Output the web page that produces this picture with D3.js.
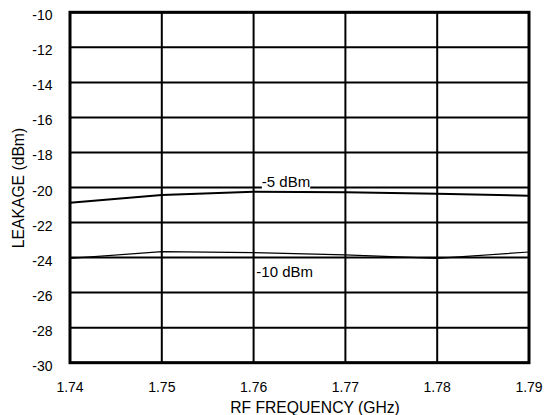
<!DOCTYPE html>
<html><head><meta charset="utf-8">
<script src="https://cdn.jsdelivr.net/npm/d3@7"></script>
<style>body{margin:0;background:#fff}svg{display:block}text{font-family:"Liberation Sans",Arial,sans-serif;fill:#000}</style>
</head><body>
<svg id="c" width="545" height="415"></svg>
<script>
const freq = [1.74, 1.75, 1.76, 1.77, 1.78, 1.79];
const leak5 = [-20.87, -20.43, -20.24, -20.27, -20.35, -20.47];
const leak10 = [-24.05, -23.66, -23.72, -23.85, -24.05, -23.68];
const xTicks = [1.74, 1.75, 1.76, 1.77, 1.78, 1.79];
const yTicks = [-30, -28, -26, -24, -22, -20, -18, -16, -14, -12, -10];
const seriesLabels = [{text: "-5 dBm", f: 1.7609, v: -19.96}, {text: "-10 dBm", f: 1.7603, v: -25.09}];

const svg = d3.select("#c");
const L = 70, R = 529, T = 12.3, B = 362.7;
const x = d3.scaleLinear().domain([1.74, 1.79]).range([L, R]);
const y = d3.scaleLinear().domain([-30, -10]).range([B, T]);

const g = svg.append("g");
g.selectAll("line.h").data(yTicks).join("line")
  .attr("x1", L).attr("x2", R).attr("y1", d => y(d)).attr("y2", d => y(d))
  .attr("stroke", "#000").attr("stroke-width", 2);
g.selectAll("line.v").data(xTicks).join("line")
  .attr("y1", T).attr("y2", B).attr("x1", d => x(d)).attr("x2", d => x(d))
  .attr("stroke", "#000").attr("stroke-width", 2);
g.append("rect").attr("x", L).attr("y", T).attr("width", R - L).attr("height", B - T)
  .attr("fill", "none").attr("stroke", "#000").attr("stroke-width", 3);

const line = d3.line().x((d, i) => x(freq[i])).y(d => y(d));
g.append("path").attr("d", line(leak5)).attr("fill", "none").attr("stroke", "#000").attr("stroke-width", 2);
g.append("path").attr("d", line(leak10)).attr("fill", "none").attr("stroke", "#000").attr("stroke-width", 1.2);

const lab = g.selectAll("g.sl").data(seriesLabels).join("g");
lab.append("text")
  .attr("x", d => x(d.f)).attr("y", d => y(d.v)).attr("font-size", 15).text(d => d.text);
lab.each(function() {
  const t = d3.select(this).select("text");
  const b = t.node().getBBox();
  d3.select(this).insert("rect", "text").attr("x", b.x).attr("y", b.y).attr("width", b.width).attr("height", b.height).attr("fill", "#fff");
});

g.selectAll("text.yl").data(yTicks).join("text")
  .attr("x", 52.5).attr("y", d => y(d) + 8).attr("text-anchor", "end").attr("font-size", 14).text(d => d);
g.selectAll("text.xl").data(xTicks).join("text")
  .attr("x", d => x(d)).attr("y", 391.5).attr("text-anchor", "middle").attr("font-size", 14).text(d => d3.format(".2f")(d));

svg.append("text").attr("x", 315).attr("y", 412.5).attr("text-anchor", "middle").attr("font-size", 15.7).text("RF FREQUENCY (GHz)");
svg.append("text").attr("transform", `translate(24,188) rotate(-90)`).attr("text-anchor", "middle").attr("font-size", 15.7).text("LEAKAGE (dBm)");
</script>
</body></html>
